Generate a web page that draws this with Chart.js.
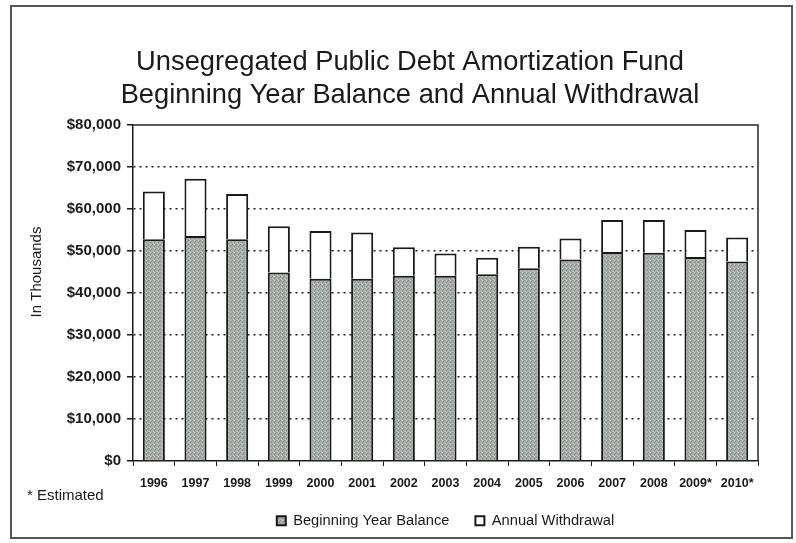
<!DOCTYPE html>
<html>
<head>
<meta charset="utf-8">
<script src="https://cdn.jsdelivr.net/npm/chart.js@4/dist/chart.umd.min.js"></script>
<style>
  html, body { margin: 0; padding: 0; background: #ffffff; }
  #wrap { width: 796px; height: 543px; position: relative; }
</style>
</head>
<body>
<div id="wrap"><canvas id="c" width="796" height="543"></canvas></div>
<script>
// Fiscal years (asterisk = estimated)
const years = ['1996', '1997', '1998', '1999', '2000', '2001', '2002', '2003',
               '2004', '2005', '2006', '2007', '2008', '2009*', '2010*'];
// Beginning year balance, $ thousands
const balance = [52800, 53600, 52800, 44900, 43400, 43400, 44100, 44100,
                 44500, 45900, 48000, 49800, 49600, 48600, 47500];
// Annual withdrawal, $ thousands (stacked on top of the balance)
const withdrawal = [11400, 13600, 10800, 11000, 11400, 11000, 6800, 5300,
                    3900, 5100, 5000, 7600, 7800, 6400, 5700];
// Value axis ticks
const yTickValues = [0, 10000, 20000, 30000, 40000, 50000, 60000, 70000, 80000];

const FONT = "'Liberation Sans', Arial, Helvetica, sans-serif";
const INK = '#1a1a1a';

// Stippled grey fill for the balance segments
function stipple() {
  const p = document.createElement('canvas');
  p.width = 4; p.height = 4;
  const g = p.getContext('2d');
  g.fillStyle = '#a6ada8';
  g.fillRect(0, 0, 4, 4);
  g.fillStyle = '#8c938e';
  g.fillRect(0, 0, 1, 1); g.fillRect(2, 2, 1, 1); g.fillRect(3, 1, 1, 1);
  g.fillStyle = '#c2c7c3';
  g.fillRect(1, 3, 1, 1); g.fillRect(2, 0, 1, 1);
  return g.createPattern(p, 'repeat');
}

// Outer frame, plot-area outline, axis caption and footnote
const decorations = {
  id: 'decorations',
  beforeDraw(chart) {
    const ctx = chart.ctx;
    ctx.save();
    ctx.fillStyle = '#ffffff';
    ctx.fillRect(0, 0, chart.width, chart.height);
    ctx.restore();
  },
  afterDatasetsDraw(chart) {
    const { ctx, chartArea: a } = chart;
    ctx.save();
    ctx.strokeStyle = '#2a2a2a';
    ctx.lineWidth = 1.5;
    ctx.beginPath();
    ctx.moveTo(a.left, a.top);
    ctx.lineTo(a.right, a.top);
    ctx.lineTo(a.right, a.bottom);
    ctx.stroke();
    ctx.restore();
  },
  afterDraw(chart) {
    const ctx = chart.ctx;
    ctx.save();
    ctx.strokeStyle = '#555555';
    ctx.lineWidth = 2;
    ctx.strokeRect(11, 6, 781, 532);

    ctx.fillStyle = INK;
    ctx.textBaseline = 'middle';
    ctx.textAlign = 'left';
    ctx.font = '15px ' + FONT;
    ctx.fillText('* Estimated', 27, 496);

    ctx.translate(37, 272);
    ctx.rotate(-Math.PI / 2);
    ctx.textAlign = 'center';
    ctx.font = '15px ' + FONT;
    ctx.fillText('In Thousands', 0, 0);
    ctx.restore();
  }
};

const chart = new Chart(document.getElementById('c'), {
  type: 'bar',
  data: {
    labels: years,
    datasets: [
      {
        label: 'Beginning Year Balance',
        data: balance,
        backgroundColor: stipple(),
        borderColor: INK,
        borderWidth: 2,
        borderSkipped: 'start'
      },
      {
        label: 'Annual Withdrawal',
        data: withdrawal,
        backgroundColor: '#ffffff',
        borderColor: INK,
        borderWidth: 2,
        borderSkipped: 'start'
      }
    ]
  },
  options: {
    responsive: false,
    animation: false,
    devicePixelRatio: 1,
    layout: { padding: { left: 62, right: 38, top: 43, bottom: 15.5 } },
    datasets: { bar: { categoryPercentage: 1, barPercentage: 0.53 } },
    plugins: {
      title: {
        display: true,
        text: ['Unsegregated Public Debt Amortization Fund',
               'Beginning Year Balance and Annual Withdrawal'],
        color: INK,
        font: { family: FONT, size: 27.3, weight: 'normal', lineHeight: 1.21 },
        padding: { top: 3, bottom: 13 }
      },
      legend: {
        position: 'bottom',
        fullSize: false,
        maxHeight: 40,
        labels: {
          color: INK,
          font: { family: FONT, size: 14.7 },
          boxWidth: 9,
          boxHeight: 9,
          padding: 26,
          useBorderRadius: false
        }
      },
      tooltip: { enabled: false }
    },
    scales: {
      x: {
        stacked: true,
        offset: true,
        afterFit(scale) { scale.height = 26.5; },
        grid: {
          display: true,
          drawOnChartArea: false,
          drawTicks: true,
          tickLength: 5,
          color: INK,
          offset: true
        },
        border: { display: true, color: INK, width: 1.5 },
        ticks: {
          color: INK,
          font: { family: FONT, size: 12.5, weight: 'bold' },
          padding: 10,
          maxRotation: 0,
          autoSkip: false
        }
      },
      y: {
        stacked: true,
        min: 0,
        max: 80000,
        afterBuildTicks(scale) {
          scale.ticks = yTickValues.map(v => ({ value: v }));
        },
        afterFit(scale) { scale.width = 133 - 62; },
        grid: {
          color: ctx => (ctx.tick && (ctx.tick.value === 0 || ctx.tick.value === 80000)) ? 'rgba(0,0,0,0)' : INK,
          lineWidth: 1.5,
          tickColor: INK,
          tickLength: 6,
          drawTicks: true
        },
        border: {
          display: true,
          color: INK,
          width: 1.5,
          dash: [2, 4]
        },
        ticks: {
          color: INK,
          font: { family: FONT, size: 15, weight: 'bold' },
          padding: 6,
          callback: v => '$' + v.toLocaleString('en-US')
        }
      }
    }
  },
  plugins: [decorations]
});
</script>
</body>
</html>
